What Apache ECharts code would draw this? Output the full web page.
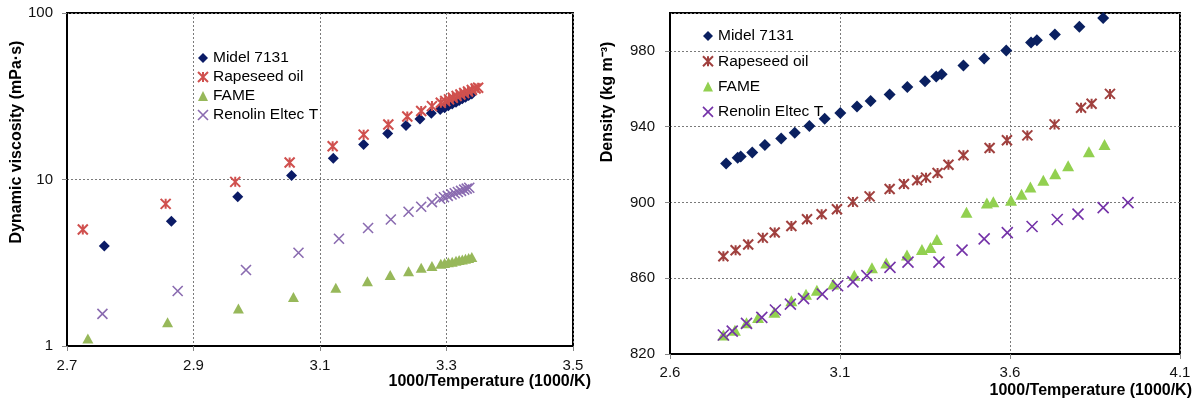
<!DOCTYPE html>
<html><head><meta charset="utf-8">
<script src="https://cdn.jsdelivr.net/npm/echarts@6/dist/echarts.min.js"></script>
<style>html,body{margin:0;padding:0;background:#fff}#c{width:1204px;height:403px}</style>
</head><body><div id="c"></div>
<script>
// ---------- names ----------
const seriesNames = ['Midel 7131', 'Rapeseed oil', 'FAME', 'Renolin Eltec T'];

// ---------- left chart: dynamic viscosity (mPa·s) vs 1000/T ----------
const midelX_v = [2.759, 2.865, 2.970, 3.055, 3.121, 3.169, 3.207, 3.236, 3.258, 3.276, 3.290, 3.297, 3.303, 3.309, 3.315, 3.320, 3.325, 3.330, 3.335, 3.340];
const midelY_v = [3.98, 5.62, 7.87, 10.57, 13.4, 16.2, 18.9, 21.1, 23.1, 25.0, 26.3, 27.0, 27.7, 28.4, 29.1, 29.8, 30.5, 31.2, 31.9, 32.6];
const rapeX_v = [2.725, 2.856, 2.966, 3.052, 3.120, 3.169, 3.208, 3.238, 3.260, 3.277, 3.291, 3.298, 3.304, 3.310, 3.316, 3.322, 3.328, 3.334, 3.340, 3.346, 3.350];
const rapeY_v = [5.01, 7.14, 9.68, 12.65, 15.85, 18.6, 21.4, 23.9, 25.8, 27.6, 28.9, 29.6, 30.3, 31.0, 31.7, 32.4, 33.1, 33.8, 34.5, 35.2, 35.6];
const fameX_v = [2.733, 2.859, 2.971, 3.058, 3.125, 3.175, 3.211, 3.240, 3.260, 3.277, 3.291, 3.297, 3.303, 3.309, 3.315, 3.320, 3.325, 3.330, 3.335, 3.340];
const fameY_v = [1.11, 1.39, 1.68, 1.97, 2.24, 2.45, 2.67, 2.81, 2.95, 3.02, 3.12, 3.15, 3.18, 3.21, 3.25, 3.28, 3.31, 3.34, 3.38, 3.42];
const renX_v = [2.756, 2.875, 2.983, 3.066, 3.130, 3.176, 3.212, 3.240, 3.260, 3.277, 3.290, 3.296, 3.302, 3.308, 3.313, 3.318, 3.323, 3.328, 3.332, 3.336];
const renY_v = [1.56, 2.14, 2.86, 3.63, 4.41, 5.11, 5.75, 6.40, 6.86, 7.31, 7.66, 7.82, 7.98, 8.13, 8.27, 8.41, 8.55, 8.69, 8.81, 8.92];

// ---------- right chart: density (kg m-3) vs 1000/T ----------
const midelX_d = [2.765, 2.799, 2.808, 2.842, 2.879, 2.927, 2.967, 3.010, 3.055, 3.101, 3.150, 3.190, 3.246, 3.298, 3.350, 3.383, 3.399, 3.463, 3.524, 3.589, 3.662, 3.679, 3.732, 3.804, 3.874];
const midelY_d = [920.6, 923.6, 924.3, 926.4, 930.3, 933.8, 936.8, 940.3, 944.2, 947.2, 950.7, 953.5, 957.0, 961.0, 964.0, 966.5, 967.7, 972.3, 976.0, 980.2, 984.4, 985.6, 988.6, 992.8, 997.4];
const rapeX_d = [2.757, 2.793, 2.830, 2.873, 2.908, 2.957, 3.003, 3.046, 3.091, 3.138, 3.187, 3.246, 3.288, 3.327, 3.353, 3.387, 3.419, 3.463, 3.540, 3.591, 3.651, 3.731, 3.809, 3.840, 3.894];
const rapeY_d = [871.6, 874.8, 877.8, 881.3, 884.1, 887.6, 891.1, 893.8, 896.4, 900.3, 903.2, 907.1, 909.7, 911.7, 913.1, 915.5, 919.9, 924.9, 928.7, 932.8, 935.4, 941.2, 950.0, 952.1, 957.3];
const fameX_d = [2.757, 2.791, 2.825, 2.859, 2.907, 2.957, 3.000, 3.032, 3.080, 3.142, 3.194, 3.236, 3.297, 3.341, 3.366, 3.385, 3.472, 3.532, 3.551, 3.603, 3.634, 3.660, 3.698, 3.733, 3.771, 3.832, 3.878];
const fameY_d = [830.0, 832.6, 836.5, 839.3, 842.1, 848.1, 851.6, 853.7, 856.9, 861.6, 865.5, 868.1, 872.3, 875.1, 876.2, 880.4, 894.8, 899.7, 900.4, 901.1, 904.3, 908.2, 911.7, 915.2, 919.4, 926.8, 930.6];
const renX_d = [2.757, 2.783, 2.825, 2.870, 2.910, 2.954, 2.993, 3.048, 3.093, 3.138, 3.179, 3.247, 3.300, 3.391, 3.459, 3.524, 3.592, 3.665, 3.739, 3.800, 3.874, 3.947];
const renY_d = [830.0, 832.1, 836.2, 839.3, 843.2, 846.3, 849.2, 851.6, 856.0, 858.1, 861.4, 865.7, 868.5, 868.5, 874.8, 880.8, 884.1, 887.3, 891.0, 893.8, 897.3, 899.9];

// ---------- axis ticks ----------
const xTicksLeft = {min: 2.7, max: 3.5, interval: 0.2};
const yTicksLeft = {min: 1, max: 100};
const xTicksRight = {min: 2.6, max: 4.1, interval: 0.5};
const yTicksRight = {min: 820, max: 1000, interval: 40};

const FONT = '"Liberation Sans", Arial, sans-serif';
const STAR = 'path://M0,0L10,10M10,0L0,10M5,0L5,10';
const CROSS = 'path://M0,0L10,10M10,0L0,10';

const leftColors = ['#0b1b66', '#d0504e', '#97b85a', '#8a6bb0'];
const rightColors = ['#0a2060', '#a0403e', '#92d050', '#7432a8'];
const symbols = ['diamond', STAR, 'triangle', CROSS];
const strokeW = [0, 2, 0, 1.6];

function pairs(xs, ys) { return xs.map((x, i) => [x, ys[i]]); }
function styleFor(k, colors) {
  return strokeW[k]
    ? {color: 'rgba(0,0,0,0)', borderColor: colors[k], borderWidth: strokeW[k], opacity: 1}
    : {color: colors[k], opacity: 1};
}
function mkSeries(k, xs, ys, idx, colors, size) {
  return {
    type: 'scatter', name: seriesNames[k], xAxisIndex: idx, yAxisIndex: idx,
    data: pairs(xs, ys), symbol: symbols[k], symbolSize: size,
    itemStyle: styleFor(k, colors), emphasis: {disabled: true}, silent: true, animation: false
  };
}
const leftSizes = [11, [10, 10], [11, 10], [10, 10]];
const rightSizes = [12, [10, 10], [12, 11], [11, 11]];

function axisCommon() {
  return {
    axisLine: {show: true, onZero: false, lineStyle: {color: '#000', width: 2}},
    axisTick: {show: true, inside: false, length: 5, lineStyle: {color: '#888', width: 1}},
    splitLine: {show: true, lineStyle: {color: '#7a7a7a', width: 1, type: [2, 2]}},
    axisLabel: {fontFamily: FONT, fontSize: 15, color: '#111'}
  };
}
function legendFor(left, top, gap, colors, isz) {
  return {
    orient: 'vertical', left: left, top: top, itemGap: gap, itemWidth: isz, itemHeight: isz,
    selectedMode: false, padding: 0,
    textStyle: {fontFamily: FONT, fontSize: 15.5, color: '#000'},
    data: seriesNames.map((n, k) => ({name: n, icon: symbols[k], itemStyle: styleFor(k, colors)}))
  };
}

const xl = axisCommon(), yl = axisCommon(), xr = axisCommon(), yr = axisCommon();
Object.assign(xl, {gridIndex: 0, type: 'value'}, xTicksLeft); xl.axisLabel.margin = 12;
Object.assign(yl, {gridIndex: 0, type: 'log', logBase: 10}, yTicksLeft); yl.axisLabel.margin = 14;
Object.assign(xr, {gridIndex: 1, type: 'value'}, xTicksRight); xr.axisLabel.margin = 11;
Object.assign(yr, {gridIndex: 1, type: 'value'}, yTicksRight); yr.axisLabel.margin = 15; yr.axisLabel.showMaxLabel = false;

const option = {
  backgroundColor: '#fff',
  animation: false,
  grid: [
    {left: 67, top: 13, width: 506, height: 333, show: true, borderColor: '#000', borderWidth: 2, backgroundColor: 'transparent'},
    {left: 670, top: 13, width: 510, height: 341, show: true, borderColor: '#000', borderWidth: 2, backgroundColor: 'transparent'}
  ],
  xAxis: [xl, xr],
  yAxis: [yl, yr],
  legend: [legendFor(197, 50, 3, leftColors, 10), legendFor(702, 28, 9.3, rightColors, 10)],
  series: [
    mkSeries(0, midelX_v, midelY_v, 0, leftColors, leftSizes[0]),
    mkSeries(1, rapeX_v, rapeY_v, 0, leftColors, leftSizes[1]),
    mkSeries(2, fameX_v, fameY_v, 0, leftColors, leftSizes[2]),
    mkSeries(3, renX_v, renY_v, 0, leftColors, leftSizes[3]),
    mkSeries(0, midelX_d, midelY_d, 1, rightColors, rightSizes[0]),
    mkSeries(1, rapeX_d, rapeY_d, 1, rightColors, rightSizes[1]),
    mkSeries(2, fameX_d, fameY_d, 1, rightColors, rightSizes[2]),
    mkSeries(3, renX_d, renY_d, 1, rightColors, rightSizes[3])
  ],
  graphic: [
    {type: 'text', x: 17, y: 142, rotation: Math.PI / 2, style: {text: 'Dynamic viscosity (mPa·s)', font: 'bold 16px ' + FONT, fill: '#000', align: 'center', verticalAlign: 'middle'}},
    {type: 'text', x: 591, y: 382, style: {text: '1000/Temperature (1000/K)', font: 'bold 16px ' + FONT, fill: '#000', align: 'right', verticalAlign: 'middle'}},
    {type: 'text', x: 608, y: 102, rotation: Math.PI / 2, style: {text: 'Density (kg m\u207B\u00B3)', font: 'bold 16px ' + FONT, fill: '#000', align: 'center', verticalAlign: 'middle'}},
    {type: 'text', x: 1192, y: 391, style: {text: '1000/Temperature (1000/K)', font: 'bold 16px ' + FONT, fill: '#000', align: 'right', verticalAlign: 'middle'}}
  ]
};
const chart = echarts.init(document.getElementById('c'));
chart.setOption(option);
</script>
</body></html>
